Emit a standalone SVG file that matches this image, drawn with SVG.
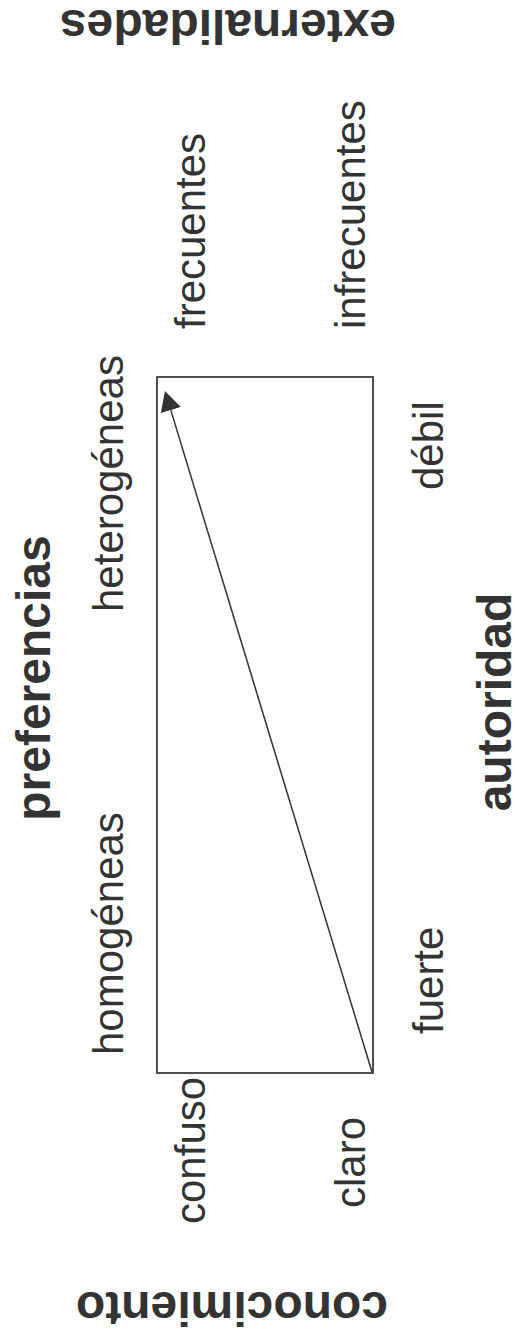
<svg xmlns="http://www.w3.org/2000/svg" width="516" height="1340" viewBox="0 0 516 1340">
<style>
.lbl{font-family:"Liberation Sans",Arial,sans-serif;font-size:42px;fill:#333;}
.ttl{font-family:"Liberation Sans",Arial,sans-serif;font-size:48px;font-weight:bold;fill:#333;}
.box{fill:none;stroke:#333;stroke-width:1.7;}
.conn{fill:none;stroke:#333;stroke-width:1.5;}
</style>
<defs>
<marker id="arr" markerUnits="userSpaceOnUse" markerWidth="22" markerHeight="22" refX="0" refY="10.5" orient="auto">
<path d="M0,0 L20,10.5 L0,21 z" fill="#333"/>
</marker>
</defs>
<rect id="frame" class="box" x="157" y="377" width="216" height="696"/>
<g id="connectors">
<line class="conn" x1="372" y1="1072" x2="170.8" y2="410.1" marker-end="url(#arr)"/>
</g>
<g id="externalidades"><text class="ttl" text-anchor="middle" transform="translate(228,10) rotate(180)">externalidades</text></g>
<g id="frecuentes"><text class="lbl" transform="translate(205,329) rotate(-90)">frecuentes</text></g>
<g id="infrecuentes"><text class="lbl" transform="translate(365,329) rotate(-90)">infrecuentes</text></g>
<g id="preferencias"><text class="ttl" text-anchor="middle" transform="translate(50,678) rotate(-90)">preferencias</text></g>
<g id="heterogeneas"><text class="lbl" transform="translate(123,612) rotate(-90)">heterogéneas</text></g>
<g id="homogeneas"><text class="lbl" transform="translate(123,1055) rotate(-90)">homogéneas</text></g>
<g id="debil"><text class="lbl" transform="translate(443,490) rotate(-90)">débil</text></g>
<g id="fuerte"><text class="lbl" transform="translate(443,1034) rotate(-90)">fuerte</text></g>
<g id="autoridad"><text class="ttl" text-anchor="middle" transform="translate(511,702) rotate(-90)">autoridad</text></g>
<g id="confuso"><text class="lbl" transform="translate(205,1224) rotate(-90)">confuso</text></g>
<g id="claro"><text class="lbl" transform="translate(365,1208) rotate(-90)">claro</text></g>
<g id="conocimiento"><text class="ttl" text-anchor="middle" transform="translate(232,1292) rotate(180)">conocimiento</text></g>
</svg>
